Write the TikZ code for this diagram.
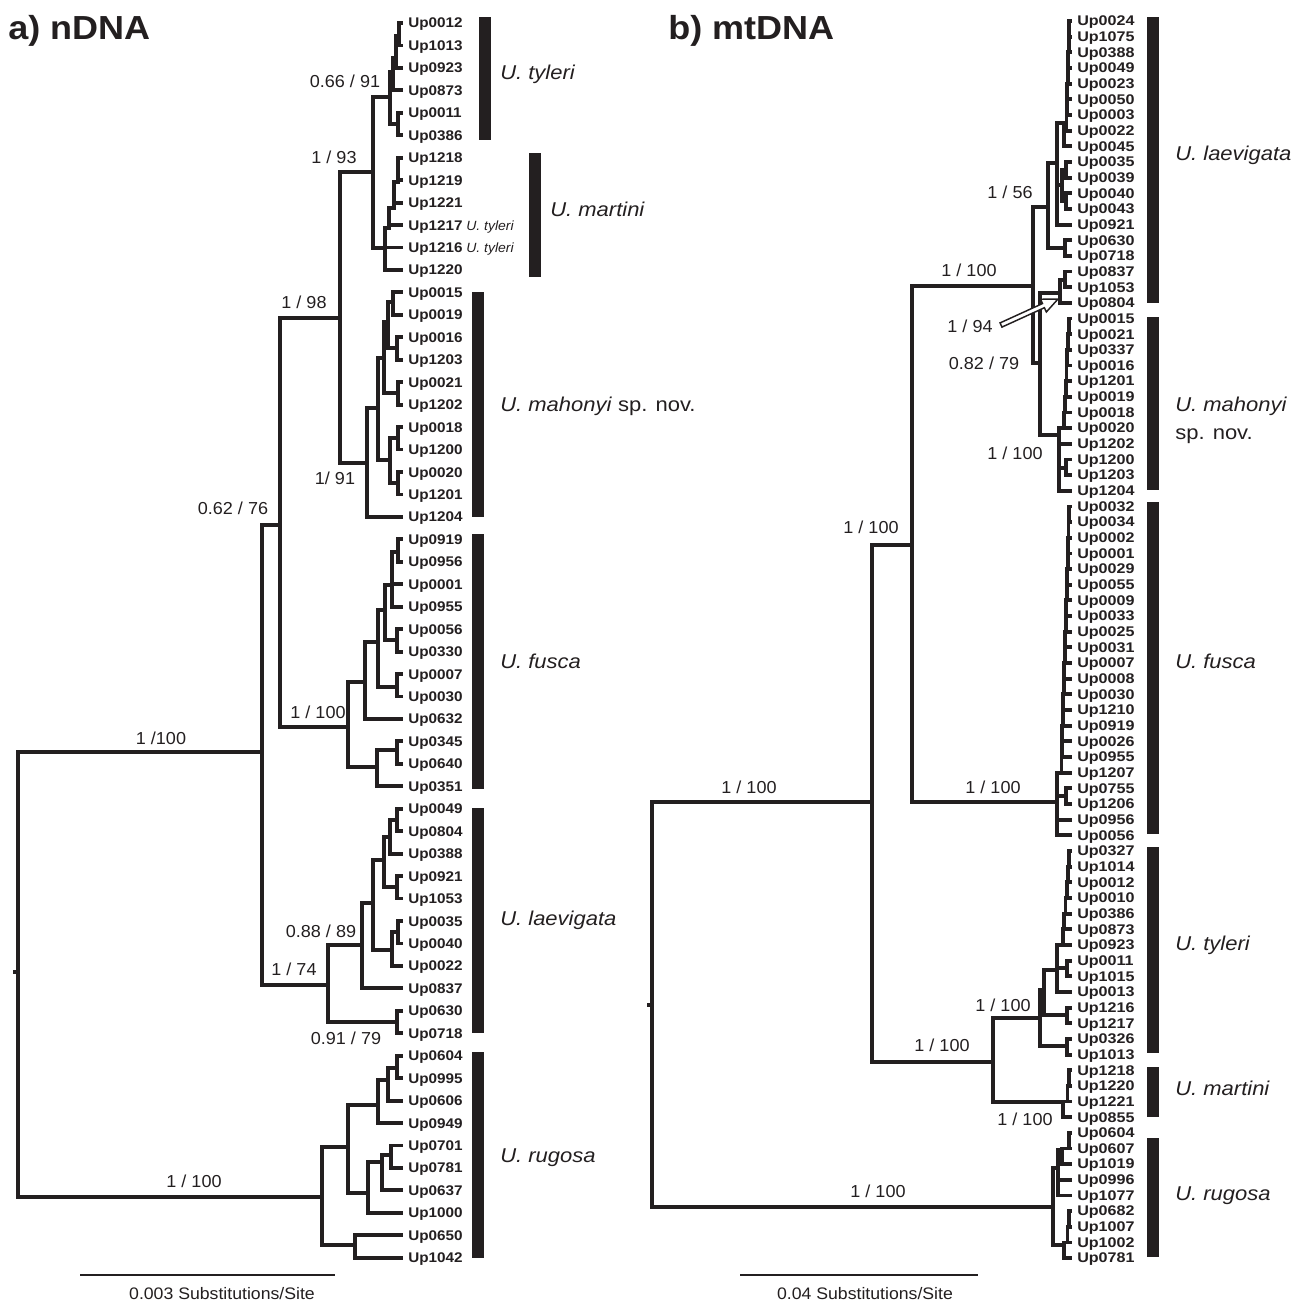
\documentclass[tikz,border=0pt]{standalone}
\usepackage{fontspec}
\setmainfont{Liberation Sans}
\usepackage{graphicx}
\definecolor{ink}{RGB}{35,31,32}
\newcommand\hs[2]{\scalebox{#1}[1]{#2}}
\newcommand\kids[2]{\foreach \kidname in {#2}{\draw[br] (#1) |- (\kidname);}}
\newcommand\stairb[5]{%
  \foreach \k in {#1,...,#2}{%
    \pgfmathsetmacro\xx{#3+(#4-#3)*(\k-#1)/(#2-#1)}%
    \coordinate (#5-\k) at (\xx,{21+15.66*\k});%
    \draw[br] (#5-\k) -- (b\k);%
  }%
  \pgfmathtruncatemacro\kl{#2-1}%
  \foreach \k in {#1,...,\kl}{%
    \pgfmathtruncatemacro\kn{\k+1}%
    \draw[br] (#5-\k) |- (#5-\kn);%
  }%
}
\begin{document}
\begin{tikzpicture}[x=0.75pt,y=-0.75pt,
  br/.style={draw=ink,line width=2.9pt,line cap=rect},
  tip/.style={anchor=base west,inner sep=0pt,text=ink,font=\fontsize{10.5}{12}\selectfont\bfseries},
  sup/.style={inner sep=0pt,text=ink,font=\fontsize{13}{15}\selectfont},
  spc/.style={anchor=base west,inner sep=0pt,text=ink,font=\fontsize{15}{17}\selectfont},
  small/.style={anchor=base west,inner sep=0pt,text=ink,font=\fontsize{10}{11}\selectfont\itshape},
  panel/.style={anchor=base west,inner sep=0pt,text=ink,font=\fontsize{25}{28}\selectfont\bfseries},
  scl/.style={inner sep=0pt,text=ink,font=\fontsize{12.5}{14}\selectfont},
  bar/.style={fill=ink,draw=none},
  sbar/.style={draw=ink,line width=1.6pt}]
\useasboundingbox (0,0) rectangle (1305,1305);

% ---------------- panel labels
\node[panel] (pa) at (8,40) {\hs{1.08}{a) nDNA}};
\node[panel] (pb) at (668,40) {\hs{1.08}{b) mtDNA}};

% ---------------- tree a leaves
\foreach \n [count=\i from 0] in {Up0012,Up1013,Up0923,Up0873,Up0011,Up0386,Up1218,Up1219,Up1221,Up1217,Up1216,Up1220,Up0015,Up0019,Up0016,Up1203,Up0021,Up1202,Up0018,Up1200,Up0020,Up1201,Up1204,Up0919,Up0956,Up0001,Up0955,Up0056,Up0330,Up0007,Up0030,Up0632,Up0345,Up0640,Up0351,Up0049,Up0804,Up0388,Up0921,Up1053,Up0035,Up0040,Up0022,Up0837,Up0630,Up0718,Up0604,Up0995,Up0606,Up0949,Up0701,Up0781,Up0637,Up1000,Up0650,Up1042}{
  \coordinate (a\i) at (401,{23+22.45*\i});
  \node[tip] (la\i) at (408,{23+22.45*\i+5}) {\hs{1.09}{\n}};
}
\node[small] (ty1) at (466,{23+22.45*9+5}) {\hs{1.05}{U. tyleri}};
\node[small] (ty2) at (466,{23+22.45*10+5}) {\hs{1.05}{U. tyleri}};

% tree a internal nodes
\coordinate (ra) at (18,972);
\coordinate (n62) at (262,752);
\coordinate (nR) at (322,1197);
\coordinate (n280) at (280,525);
\coordinate (n74) at (328,985);
\coordinate (n98) at (340,318);
\coordinate (nF) at (348,727);
\coordinate (n93) at (373,172);
\coordinate (n91) at (367,463);
\coordinate (nT) at (390,97);
\coordinate (nM) at (385,248);
\coordinate (nT2) at (393,72);
\coordinate (nT3) at (398,124);
\coordinate (nT4) at (396,58);
\coordinate (nT5) at (399,36);
\coordinate (nM2) at (389,228);
\coordinate (nM3) at (394,208);
\coordinate (nM4) at (398,182);
\coordinate (nMh2) at (378,408);
\coordinate (nMh3) at (384,358);
\coordinate (nMh4) at (390,460);
\coordinate (nMh5) at (388,322);
\coordinate (nMh6) at (398,393);
\coordinate (nMh7) at (393,302);
\coordinate (nMh8) at (397,348);
\coordinate (nMh9) at (398,438);
\coordinate (nMh10) at (398,483);
\coordinate (nF2) at (365,682);
\coordinate (nF3) at (377,767);
\coordinate (nF4) at (378,642);
\coordinate (nF5) at (385,610);
\coordinate (nF6) at (397,687);
\coordinate (nF7) at (392,585);
\coordinate (nF8) at (397,640);
\coordinate (nF9) at (398,552);
\coordinate (nF10) at (397,750);
\coordinate (n88) at (362,945);
\coordinate (nL2) at (397,1022);
\coordinate (nL3) at (373,903);
\coordinate (nL4) at (384,860);
\coordinate (nL5) at (392,950);
\coordinate (nL6) at (390,837);
\coordinate (nL7) at (397,887);
\coordinate (nL8) at (397,820);
\coordinate (nL9) at (398,932);
\coordinate (nR2) at (348,1147);
\coordinate (nR3) at (355,1245);
\coordinate (nR4) at (378,1105);
\coordinate (nR5) at (368,1193);
\coordinate (nR6) at (388,1080);
\coordinate (nR7) at (397,1068);
\coordinate (nR8) at (382,1162);
\coordinate (nR9) at (391,1155);

\draw[br] (ra) -- ++(-3,0);
\kids{ra}{n62,nR}
\kids{n62}{n280,n74}
\kids{n280}{n98,nF}
\kids{n98}{n93,n91}
\kids{n93}{nT,nM}
\kids{nT}{nT2,nT3}
\kids{nT2}{a3,nT4}
\kids{nT4}{a2,nT5}
\kids{nT5}{a1,a0}
\kids{nT3}{a4,a5}
\kids{nM}{a10,a11,nM2}
\kids{nM2}{a9,nM3}
\kids{nM3}{a8,nM4}
\kids{nM4}{a7,a6}
\kids{n91}{a22,nMh2}
\kids{nMh2}{nMh3,nMh4}
\kids{nMh3}{nMh5,nMh6}
\kids{nMh5}{nMh7,nMh8}
\kids{nMh7}{a12,a13}
\kids{nMh8}{a14,a15}
\kids{nMh6}{a16,a17}
\kids{nMh4}{nMh9,nMh10}
\kids{nMh9}{a18,a19}
\kids{nMh10}{a20,a21}
\kids{nF}{nF2,nF3}
\kids{nF2}{nF4,a31}
\kids{nF4}{nF5,nF6}
\kids{nF5}{nF7,nF8}
\kids{nF7}{a26,a25,nF9}
\kids{nF9}{a23,a24}
\kids{nF8}{a27,a28}
\kids{nF6}{a29,a30}
\kids{nF3}{nF10,a34}
\kids{nF10}{a32,a33}
\kids{n74}{n88,nL2}
\kids{n88}{nL3,a43}
\kids{nL3}{nL4,nL5}
\kids{nL4}{nL6,nL7}
\kids{nL6}{nL8,a37}
\kids{nL8}{a35,a36}
\kids{nL7}{a38,a39}
\kids{nL5}{nL9,a42}
\kids{nL9}{a40,a41}
\kids{nL2}{a44,a45}
\kids{nR}{nR2,nR3}
\kids{nR2}{nR4,nR5}
\kids{nR4}{nR6,a49}
\kids{nR6}{nR7,a48}
\kids{nR7}{a46,a47}
\kids{nR5}{nR8,a53}
\kids{nR8}{nR9,a52}
\kids{nR9}{a50,a51}
\kids{nR3}{a54,a55}

% tree a support values
\node[sup] (s1) at (345,81) {\hs{1.04}{0.66 / 91}};
\node[sup] (s2) at (334,157) {\hs{1.04}{1 / 93}};
\node[sup] (s3) at (304,302) {\hs{1.04}{1 / 98}};
\node[sup] (s4) at (335,478) {\hs{1.04}{1/ 91}};
\node[sup] (s5) at (233,508) {\hs{1.04}{0.62 / 76}};
\node[sup] (s6) at (318,712) {\hs{1.04}{1 / 100}};
\node[sup] (s7) at (161,738) {\hs{1.04}{1 /100}};
\node[sup] (s8) at (321,931) {\hs{1.04}{0.88 / 89}};
\node[sup] (s9) at (294,969) {\hs{1.04}{1 / 74}};
\node[sup] (s10) at (346,1038) {\hs{1.04}{0.91 / 79}};
\node[sup] (s11) at (194,1181) {\hs{1.04}{1 / 100}};

% tree a bars and species
\fill[bar] (479,17) rectangle (491,140);
\fill[bar] (529,153) rectangle (541,277);
\fill[bar] (472,292) rectangle (484,517);
\fill[bar] (472,534) rectangle (484,789);
\fill[bar] (472,808) rectangle (484,1033);
\fill[bar] (472,1052) rectangle (484,1258);
\node[spc] (sa1) at (500,80) {\hs{1.1}{\itshape U. tyleri}};
\node[spc] (sa2) at (550,217) {\hs{1.1}{\itshape U. martini}};
\node[spc] (sa3) at (500,411) {\hs{1.1}{\textit{U. mahonyi} sp. nov.}};
\node[spc] (sa4) at (500,668) {\hs{1.1}{\itshape U. fusca}};
\node[spc] (sa5) at (500,925) {\hs{1.1}{\itshape U. laevigata}};
\node[spc] (sa6) at (500,1162) {\hs{1.1}{\itshape U. rugosa}};

% tree a scale
\coordinate (sca1) at (80,1275);
\coordinate (sca2) at (335,1275);
\draw[sbar] (sca1) -- (sca2);
\node[scl] (scat) at (222,1294) {\hs{1.06}{0.003 Substitutions/Site}};

% ---------------- tree b leaves
\foreach \n [count=\i from 0] in {Up0024,Up1075,Up0388,Up0049,Up0023,Up0050,Up0003,Up0022,Up0045,Up0035,Up0039,Up0040,Up0043,Up0921,Up0630,Up0718,Up0837,Up1053,Up0804,Up0015,Up0021,Up0337,Up0016,Up1201,Up0019,Up0018,Up0020,Up1202,Up1200,Up1203,Up1204,Up0032,Up0034,Up0002,Up0001,Up0029,Up0055,Up0009,Up0033,Up0025,Up0031,Up0007,Up0008,Up0030,Up1210,Up0919,Up0026,Up0955,Up1207,Up0755,Up1206,Up0956,Up0056,Up0327,Up1014,Up0012,Up0010,Up0386,Up0873,Up0923,Up0011,Up1015,Up0013,Up1216,Up1217,Up0326,Up1013,Up1218,Up1220,Up1221,Up0855,Up0604,Up0607,Up1019,Up0996,Up1077,Up0682,Up1007,Up1002,Up0781}{
  \coordinate (b\i) at (1070,{21+15.66*\i});
  \node[tip] (lb\i) at (1077,{21+15.66*\i+4.8}) {\hs{1.15}{\n}};
}

\coordinate (rb) at (652,1005);
\coordinate (b1n) at (872,802);
\coordinate (bR) at (1053,1207);
\coordinate (b2n) at (912,545);
\coordinate (bTM) at (993,1062);
\coordinate (bA) at (1033,286);
\coordinate (bF) at (1057,802);
\coordinate (bL) at (1048,207);
\coordinate (bB) at (1040,363);
\coordinate (bC) at (1060,293);
\coordinate (bC2) at (1065,280);
\coordinate (bMh) at (1059,435);
\coordinate (bMh2) at (1066,468);
\coordinate (bL1) at (1057,163);
\coordinate (bL2) at (1065,248);
\coordinate (bL3) at (1064,123);
\coordinate (bL4) at (1062,185);
\coordinate (bL4a) at (1066,170);
\coordinate (bL4b) at (1066,201);
\coordinate (bF2) at (1066,796);
\coordinate (bT) at (1040,1018);
\coordinate (bMa) at (1063,1102);
\coordinate (bT2) at (1067,1046);
\coordinate (bT3) at (1044,990);
\coordinate (bT1) at (1057,970);
\coordinate (bT4) at (1067,1015);
\coordinate (bT5) at (1067,968);
\coordinate (bR1) at (1058,1168);
\coordinate (bR2) at (1064,1245);
\coordinate (bR3) at (1062,1150);

\stairb{0}{7}{1069}{1066}{s0}
\stairb{19}{26}{1069}{1063}{s19}
\stairb{31}{48}{1069}{1061}{s31}
\stairb{53}{59}{1069}{1062}{s53}
\stairb{67}{69}{1069}{1066}{s67}
\stairb{71}{72}{1069}{1066}{s71}
\stairb{76}{78}{1069}{1066}{s76}

\draw[br] (rb) -- ++(-3,0);
\kids{rb}{b1n,bR}
\kids{b1n}{b2n,bTM}
\kids{b2n}{bA,bF}
\kids{bA}{bL,bB}
\kids{bB}{bC,bMh}
\kids{bC}{b18,bC2}
\kids{bC2}{b16,b17}
\kids{bL}{bL1,bL2}
\kids{bL1}{bL3,bL4,b13}
\kids{bL3}{s0-7,b8}
\kids{bL4}{bL4a,bL4b}
\kids{bL4a}{b9,b10}
\kids{bL4b}{b11,b12}
\kids{bL2}{b14,b15}
\kids{bMh}{s19-26,b27,bMh2,b30}
\kids{bMh2}{b28,b29}
\kids{bF}{s31-48,bF2,b51,b52}
\kids{bF2}{b49,b50}
\kids{bTM}{bT,bMa}
\kids{bT}{bT2,bT3}
\kids{bT2}{b65,b66}
\kids{bT3}{bT1,bT4}
\kids{bT4}{b63,b64}
\kids{bT1}{s53-59,bT5,b62}
\kids{bT5}{b60,b61}
\kids{bMa}{s67-69,b70}
\kids{bR}{bR1,bR2}
\kids{bR1}{bR3,b74,b75}
\kids{bR3}{s71-72,b73}
\kids{bR2}{s76-78,b79}

% white arrow pointing at the 1/94 node
\draw[ink,line width=1.1pt,fill=white,line join=miter]
  (1001.95,327.09) -- (1044.39,307.73) -- (1046.34,312.01) -- (1058,299)
  -- (1040.54,299.27) -- (1042.49,303.55) -- (1000.05,322.91) -- cycle;

% tree b support values
\node[sup] (t1) at (1010,192) {\hs{1.04}{1 / 56}};
\node[sup] (t2) at (969,270) {\hs{1.04}{1 / 100}};
\node[sup] (t3) at (970,326) {\hs{1.04}{1 / 94}};
\node[sup] (t4) at (984,363) {\hs{1.04}{0.82 / 79}};
\node[sup] (t5) at (1015,453) {\hs{1.04}{1 / 100}};
\node[sup] (t6) at (871,527) {\hs{1.04}{1 / 100}};
\node[sup] (t7) at (993,787) {\hs{1.04}{1 / 100}};
\node[sup] (t8) at (749,787) {\hs{1.04}{1 / 100}};
\node[sup] (t9) at (1003,1005) {\hs{1.04}{1 / 100}};
\node[sup] (t10) at (942,1045) {\hs{1.04}{1 / 100}};
\node[sup] (t11) at (1025,1119) {\hs{1.04}{1 / 100}};
\node[sup] (t12) at (878,1191) {\hs{1.04}{1 / 100}};

% tree b bars and species
\fill[bar] (1147,17) rectangle (1159,303);
\fill[bar] (1147,317) rectangle (1159,490);
\fill[bar] (1147,502) rectangle (1159,834);
\fill[bar] (1147,847) rectangle (1159,1053);
\fill[bar] (1147,1067) rectangle (1159,1117);
\fill[bar] (1147,1138) rectangle (1159,1257);
\node[spc] (sb1) at (1175,161) {\hs{1.1}{\itshape U. laevigata}};
\node[spc] (sb2) at (1175,411) {\hs{1.1}{\itshape U. mahonyi}};
\node[spc] (sb2b) at (1175,439) {\hs{1.1}{sp. nov.}};
\node[spc] (sb3) at (1175,668) {\hs{1.1}{\itshape U. fusca}};
\node[spc] (sb4) at (1175,950) {\hs{1.1}{\itshape U. tyleri}};
\node[spc] (sb5) at (1175,1095) {\hs{1.1}{\itshape U. martini}};
\node[spc] (sb6) at (1175,1200) {\hs{1.1}{\itshape U. rugosa}};

% tree b scale
\coordinate (scb1) at (740,1275);
\coordinate (scb2) at (978,1275);
\draw[sbar] (scb1) -- (scb2);
\node[scl] (scbt) at (865,1294) {\hs{1.06}{0.04 Substitutions/Site}};
\end{tikzpicture}
\end{document}
